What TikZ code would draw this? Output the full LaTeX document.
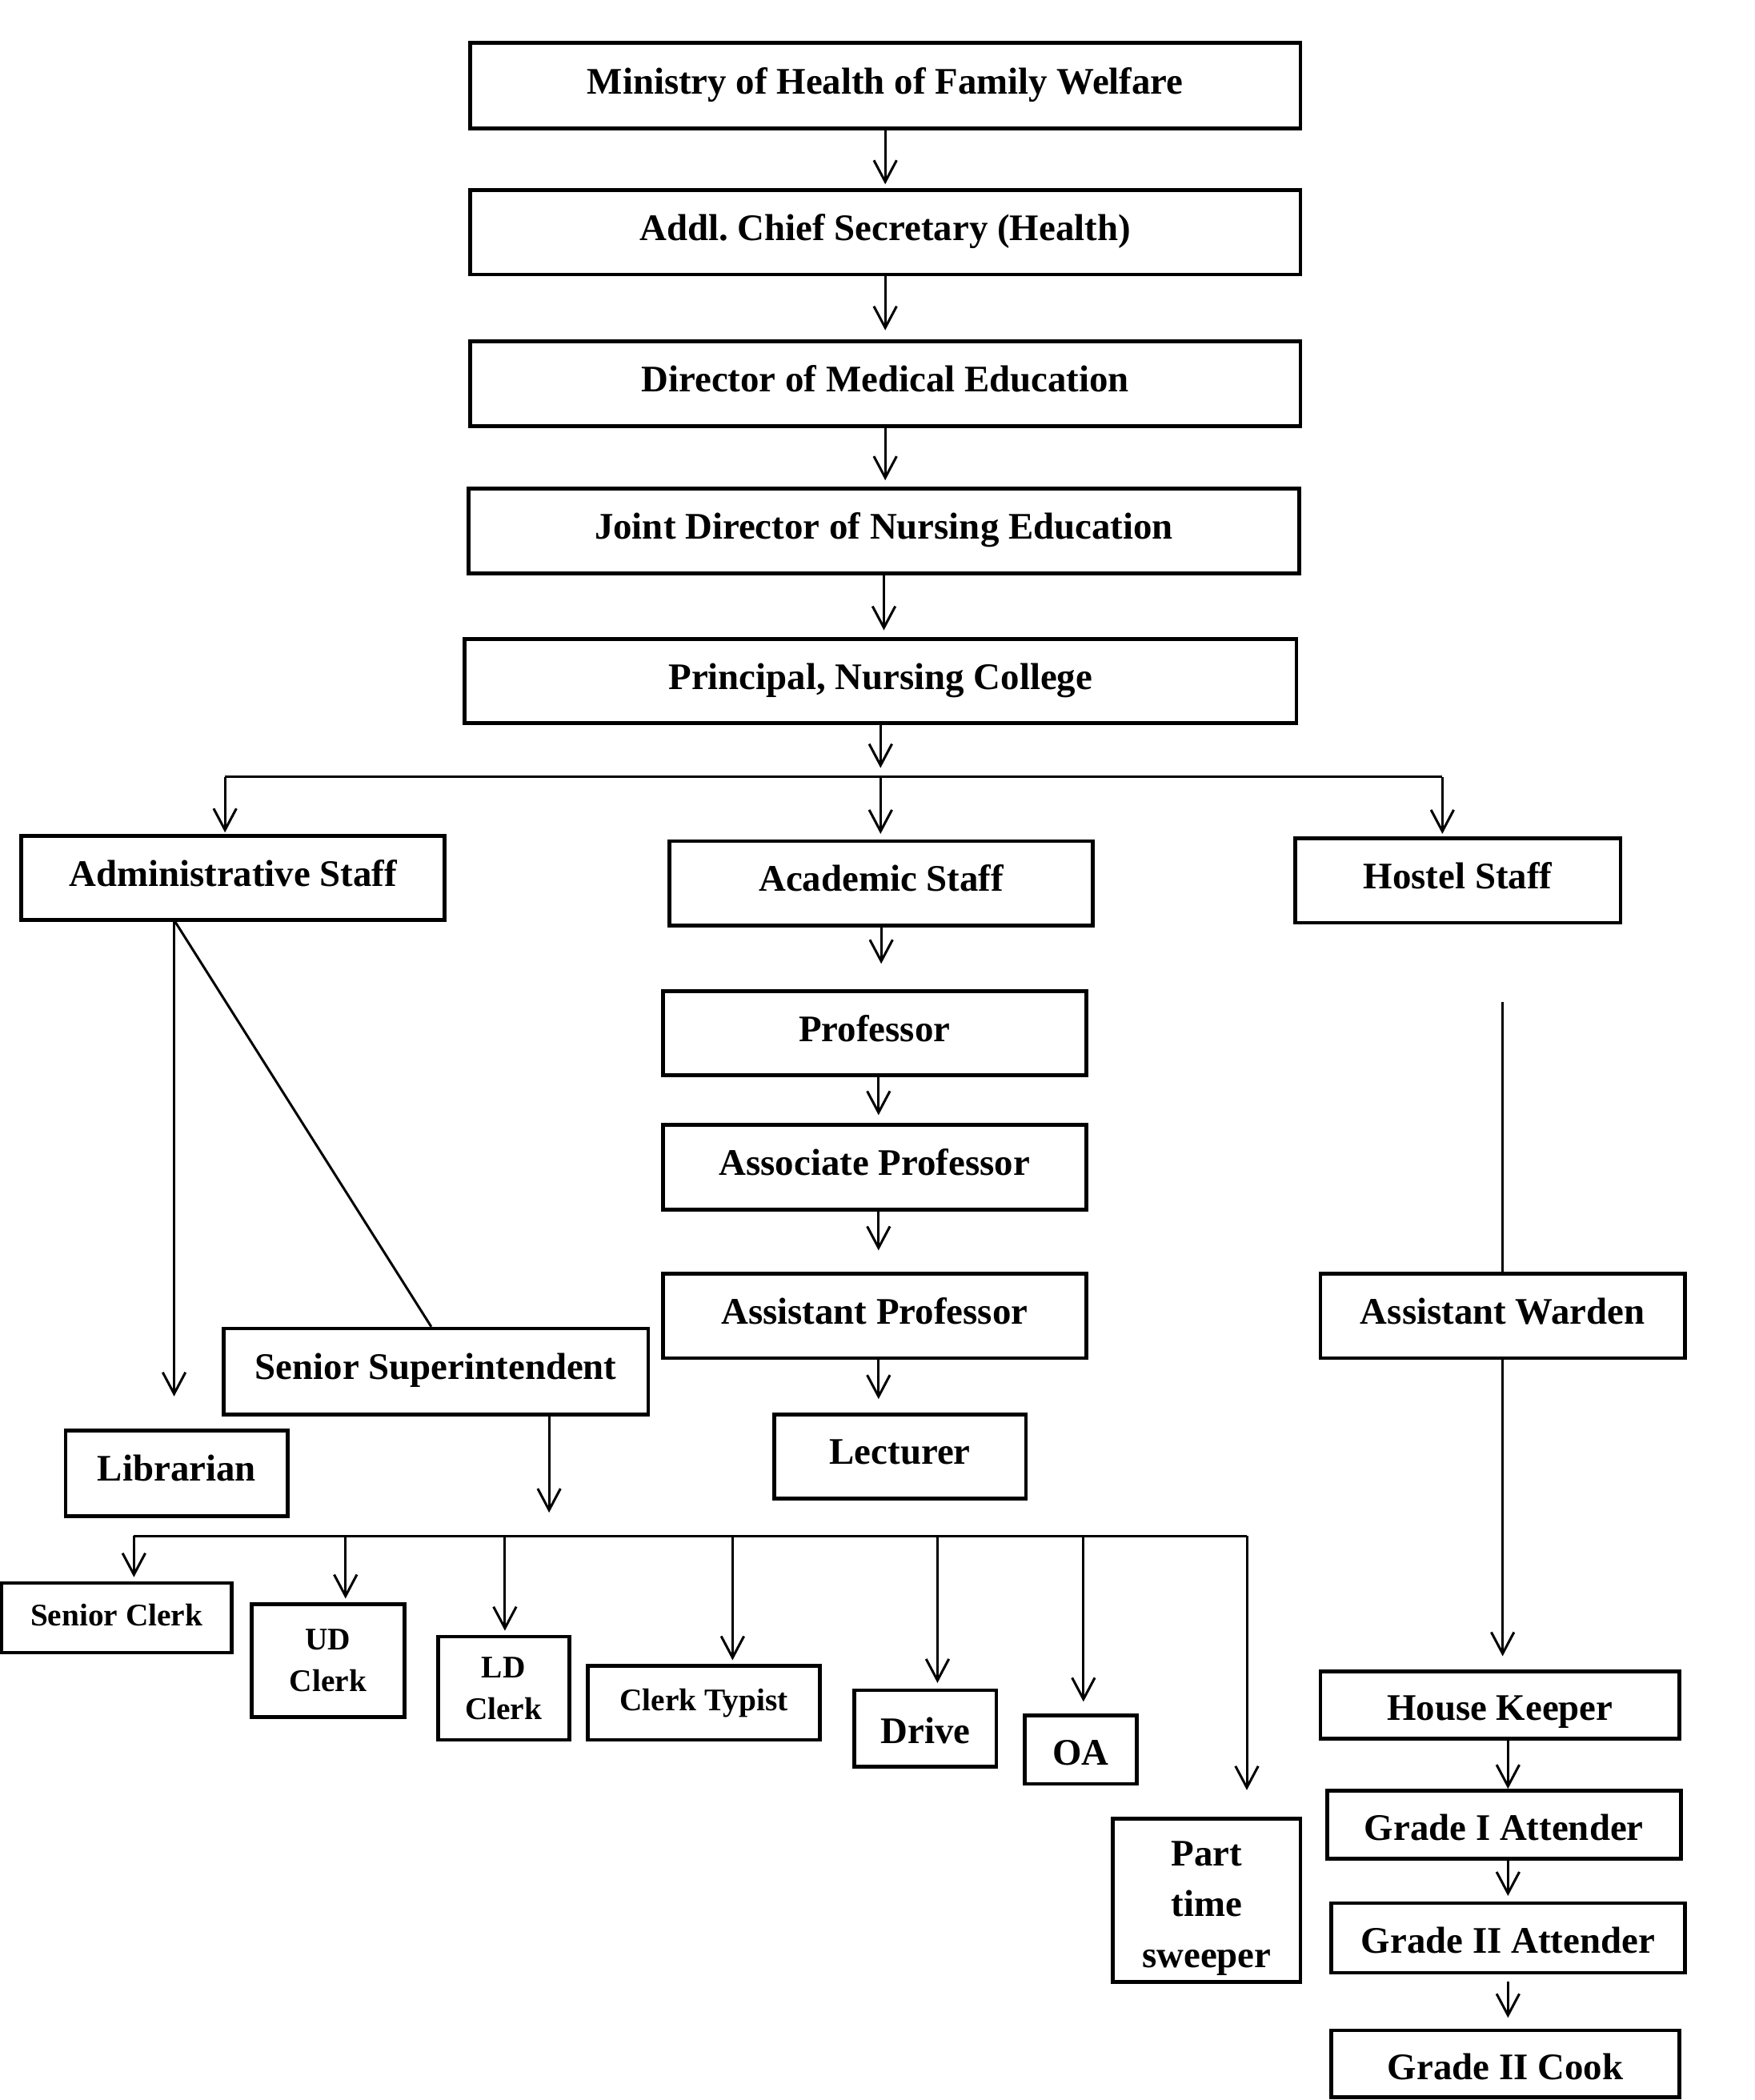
\documentclass[tikz,border=0pt]{standalone}
\usepackage{fontspec}
\setmainfont{Liberation Serif}
\usetikzlibrary{arrows.meta}
\frenchspacing

\tikzset{
  post/.style={draw, line width=2.8pt, inner sep=0pt, font=\fontsize{28}{38}\selectfont\bfseries, text height=19pt, text depth=7pt},
  low/.style={text height=24pt, text depth=1pt},
  stack/.style={draw, line width=2.8pt, inner sep=0pt, align=center, font=\fontsize{28}{38}\selectfont\bfseries},
  small/.style={font=\fontsize{23.5}{31}\selectfont\bfseries},
  conn/.style={line width=1.8pt},
  arr/.style={conn, -{Straight Barb[length=16pt,width=17pt]}},
}

\begin{document}
\begin{tikzpicture}[x=1pt, y=-1pt]
    \useasboundingbox (0,0) rectangle (1310,1568);

    % Top of the chain
    \node[post, minimum width=620pt, minimum height=64pt] (ministry) at (661,64) {Ministry of Health of Family Welfare};
    \node[post, minimum width=620pt, minimum height=63pt] (addl) at (661,173.5) {Addl.\ Chief Secretary (Health)};
    \node[post, minimum width=620pt, minimum height=63pt] (dme) at (661,286.5) {Director of Medical Education};
    \node[post, minimum width=620pt, minimum height=63pt] (jdne) at (660,396.5) {Joint Director of Nursing Education};
    \node[post, minimum width=621pt, minimum height=63pt] (principal) at (657.5,508.5) {Principal, Nursing College};

    \draw[arr, shorten >=3pt] (ministry.south) -- (ministry.south |- addl.north);
    \draw[arr, shorten >=7pt] (addl.south) -- (addl.south |- dme.north);
    \draw[arr, shorten >=5pt] (dme.south) -- (dme.south |- jdne.north);
    \draw[arr, shorten >=5pt] (jdne.south) -- (jdne.south |- principal.north);

    % Three wings
    \node[post, minimum width=316pt, minimum height=63pt] (admin) at (174,655.5) {Administrative Staff};
    \node[post, minimum width=316pt, minimum height=63pt] (academic) at (658,659.5) {Academic Staff};
    \node[post, minimum width=243pt, minimum height=63pt] (hostel) at (1088.5,657.5) {Hostel Staff};

    \coordinate (barL) at (168,580);
    \coordinate (barR) at (1077,580);
    \draw[arr] (principal.south) -- ++(0,32);
    \draw[conn] (barL) -- (barR);
    \draw[arr, shorten >=1pt] (barL) -- (barL |- admin.north);
    \draw[arr, shorten >=4pt] (principal.south |- barL) -- (principal.south |- academic.north);
    \draw[arr, shorten >=2pt] (barR) -- (barR |- hostel.north);

    % Academic staff
    \node[post, minimum width=316pt, minimum height=63pt] (prof) at (653,771.5) {Professor};
    \node[post, minimum width=316pt, minimum height=63pt] (assoc) at (653,871.5) {Associate Professor};
    \node[post, minimum width=316pt, minimum height=63pt] (asst) at (653,982.5) {Assistant Professor};
    \node[post, minimum width=188pt, minimum height=63pt] (lecturer) at (672,1087.5) {Lecturer};

    \draw[arr, shorten >=19pt] (academic.south) -- (academic.south |- prof.north);
    \draw[arr, shorten >=6pt] ([xshift=3pt]prof.south) -- ([xshift=3pt]prof.south |- assoc.north);
    \draw[arr, shorten >=16pt] ([xshift=3pt]assoc.south) -- ([xshift=3pt]assoc.south |- asst.north);
    \draw[arr, shorten >=10pt] ([xshift=3pt]asst.south) -- ([xshift=3pt]asst.south |- lecturer.north);

    % Administrative staff
    \node[post, minimum width=166pt, minimum height=64pt] (librarian) at (132,1100) {Librarian};
    \node[post, minimum width=317pt, minimum height=64pt] (supt) at (325.5,1024) {Senior Superintendent};
    \coordinate (admfoot) at (130,687);
    \draw[arr, shorten >=24pt] (admfoot) -- (admfoot |- librarian.north);
    \draw[conn] (admfoot) -- ([xshift=-3.5pt]supt.north);

    \coordinate (cbarL) at (100,1147);
    \coordinate (cbarR) at (931,1147);
    \draw[arr] ([xshift=84.5pt]supt.south) -- ++(0,72);
    \draw[conn] (cbarL) -- (cbarR);

    \node[post, small, minimum width=172pt, minimum height=52pt] (sclerk) at (87,1208) {Senior Clerk};
    \node[stack, small, minimum width=114pt, minimum height=84pt] (udclerk) at (245,1240) {UD\\Clerk};
    \node[stack, small, minimum width=98pt, minimum height=77pt] (ldclerk) at (376,1260.5) {LD\\Clerk};
    \node[post, small, minimum width=173pt, minimum height=55pt] (typist) at (525.5,1271.5) {Clerk Typist};
    \node[post, low, minimum width=106pt, minimum height=57pt] (driver) at (691,1290.5) {Drive};
    \node[post, low, minimum width=84pt, minimum height=51pt] (oa) at (807,1306.5) {OA};
    \node[stack, minimum width=140pt, minimum height=122pt] (sweeper) at (901,1419) {\rule{0pt}{30pt}Part\\time\\sweeper};

    \foreach \x/\n/\s in {100/sclerk/3pt, 258/udclerk/3pt, 377/ldclerk/3pt, 547/typist/3pt,
                          700/driver/4pt, 809/oa/9pt, 931/sweeper/20pt} {
        \draw[arr, shorten >=\s] (\x,0 |- cbarL) -- (\x,0 |- \n.north);
    }

    % Hostel staff
    \node[post, minimum width=272pt, minimum height=63pt] (warden) at (1122,982.5) {Assistant Warden};
    \node[post, low, minimum width=268pt, minimum height=50pt] (keeper) at (1120,1273) {House Keeper};
    \node[post, low, minimum width=264pt, minimum height=51pt] (gradeone) at (1123,1362.5) {Grade I Attender};
    \node[post, low, minimum width=264pt, minimum height=52pt] (gradetwo) at (1126,1447) {Grade II Attender};
    \node[post, low, minimum width=260pt, minimum height=50pt] (cook) at (1124,1541) {Grade II Cook};

    \coordinate (hostelgap) at (1122,748);
    \draw[conn] (hostelgap) -- (warden.north);
    \draw[arr, shorten >=10pt] (warden.south) -- (warden.south |- keeper.north);
    \draw[arr] ([xshift=3pt]gradeone.north |- keeper.south) -- ([xshift=3pt]gradeone.north);
    \draw[arr, shorten >=4pt] (gradetwo.north |- gradeone.south) -- (gradetwo.north);
    \draw[arr, shorten <=5pt, shorten >=8pt] ([xshift=2pt]cook.north |- gradetwo.south) -- ([xshift=2pt]cook.north);
\end{tikzpicture}
\end{document}
